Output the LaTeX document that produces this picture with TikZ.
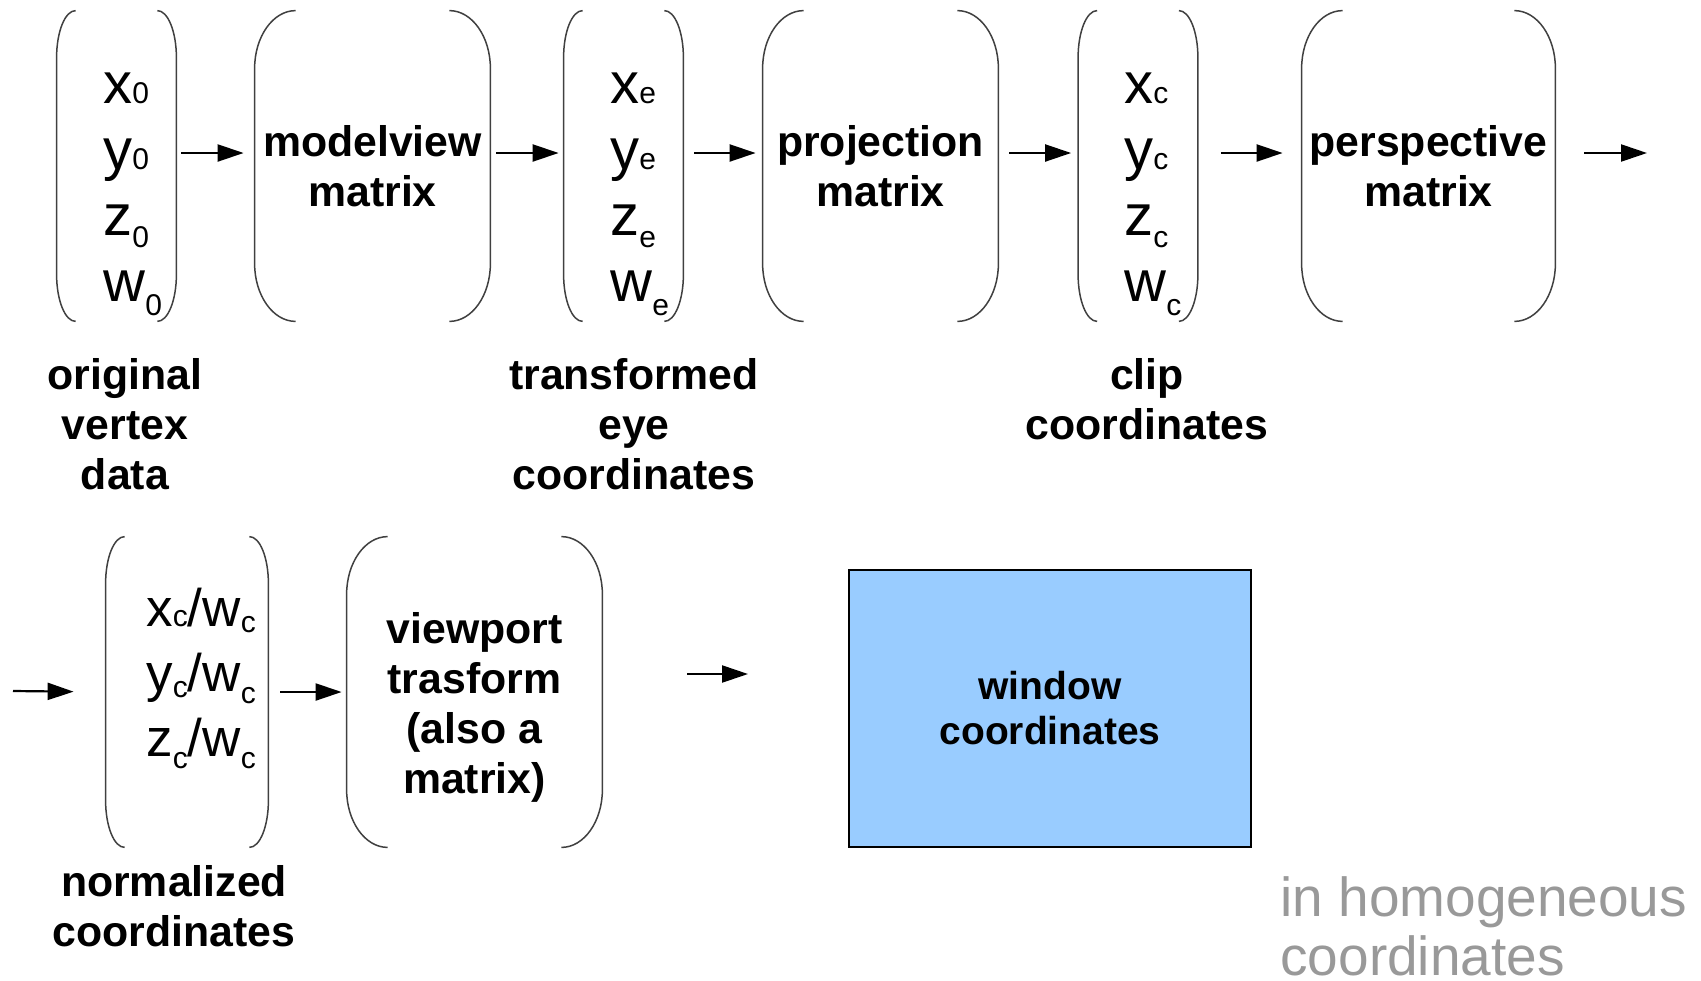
\documentclass[tikz,border=0pt]{standalone}
\usepackage{fontspec}
\setmainfont{Liberation Sans}
\usepackage{xcolor}
\usetikzlibrary{arrows.meta}
\definecolor{winblue}{HTML}{99CCFF}
\definecolor{notegray}{HTML}{999999}
\tikzset{vec/.style = {inner sep = 0, minimum width = 59.5pt, minimum height = 155pt}}
\tikzset{mat/.style = {vec, minimum width = 117.5pt, align = center, font = \bfseries\fontsize{21.4}{25}\selectfont}}
\tikzset{comp/.style = {inner sep = 0, align = left, font = \fontsize{29}{33}\selectfont}}
\tikzset{lbl/.style = {inner sep = 0, align = center, font = \bfseries\fontsize{21.4}{25}\selectfont}}
\tikzset{paren/.style = {line width = 0.75pt, draw = black!75}}
\tikzset{arr/.style = {line width = 1.1pt, -{Triangle[length = 13pt, width = 8.5pt]}}}
% subscript, lowered by the optional amount
\newcommand{\sub}[2][0pt]{\raisebox{-#1}{\fontsize{15}{15}\selectfont #2}}
% round brackets around a node: name, curl width, curl height
\newcommand{\parens}[3]{%
  \draw[paren] ([xshift=#2]#1.north west) arc[start angle=90, end angle=180, x radius=#2, y radius=#3]
    -- ([yshift=#3]#1.south west) arc[start angle=180, end angle=270, x radius=#2, y radius=#3];
  \draw[paren] ([xshift=-#2]#1.north east) arc[start angle=90, end angle=0, x radius=#2, y radius=#3]
    -- ([yshift=#3]#1.south east) arc[start angle=0, end angle=-90, x radius=#2, y radius=#3];
}

\begin{document}
\begin{tikzpicture}[x=0.5pt, y=-0.5pt]
  \useasboundingbox (0,0) rectangle (1701,980);

  \node[vec] (v0) at (116.5,166) {};
  \node[mat] (mv) at (372.5,166) {modelview\\matrix};
  \node[vec] (ve) at (623.5,166) {};
  \node[mat] (pr) at (880.5,166) {projection\\matrix};
  \node[vec] (vc) at (1138,166) {};
  \node[mat, minimum width = 126.5pt] (pe) at (1428.5,166) {perspective\\matrix};

  \node[vec, minimum width = 81pt] (vn) at (187,692) {};
  \node[vec, minimum width = 127.5pt] (vp) at (474.5,692) {};
  \node[draw, line width = 1pt, fill = winblue, minimum width = 201pt, minimum height = 138.5pt,
        align = center, font = \bfseries\fontsize{19.5}{22.5}\selectfont] (win) at (1050,708.5) {window\\coordinates};

  \parens{v0}{9.5pt}{23.5pt}
  \parens{ve}{9.5pt}{23.5pt}
  \parens{vc}{9.5pt}{23.5pt}
  \parens{vn}{9.5pt}{23.5pt}
  \parens{mv}{20.5pt}{29pt}
  \parens{pr}{20.5pt}{29pt}
  \parens{pe}{20.5pt}{29pt}
  \parens{vp}{20.5pt}{29pt}

  \node[comp, anchor = west] (v0t) at (103,194) {x\sub{0}\\y\sub{0}\\z\sub[6pt]{0}\\w\sub[7pt]{0}};
  \node[comp, anchor = west] (vet) at (610,194) {x\sub{e}\\y\sub{e}\\z\sub[6pt]{e}\\w\sub[7pt]{e}};
  \node[comp, anchor = west] (vct) at (1124,194) {x\sub{c}\\y\sub{c}\\z\sub[6pt]{c}\\w\sub[7pt]{c}};
  \node[comp, anchor = west, font = \fontsize{26.5}{32.5}\selectfont] (vnt) at (146,678)
    {x\sub{c}/w\sub[3pt]{c}\\y\sub[3pt]{c}/w\sub[6pt]{c}\\z\sub[6pt]{c}/w\sub[6pt]{c}};
  \node[lbl] (vpt) at (474.5,707) {viewport\\trasform\\(also a\\matrix)};

  \node[lbl] (l0) at (125,424) {original\\vertex\\data};
  \node[lbl] (le) at (634,424) {transformed\\eye\\coordinates};
  \node[lbl] (lc) at (1147,399) {clip\\coordinates};
  \node[lbl] (ln) at (174,906) {normalized\\coordinates};
  \node[inner sep = 0, anchor = west, align = left, text = notegray,
        font = \fontsize{27.5}{29.5}\selectfont] (hom) at (1280,926) {in homogeneous\\coordinates};

  \coordinate (out1) at (1647,153);
  \coordinate (in2) at (13,691);

  \draw[arr, shorten <= 2.5pt, shorten >= 5.5pt] ([yshift=6.5pt]v0.east) -- ([yshift=6.5pt]mv.west);
  \draw[arr, shorten <= 3pt, shorten >= 2.5pt] ([yshift=6.5pt]mv.east) -- ([yshift=6.5pt]ve.west);
  \draw[arr, shorten <= 5.5pt, shorten >= 3.5pt] ([yshift=6.5pt]ve.east) -- ([yshift=6.5pt]pr.west);
  \draw[arr, shorten <= 5.5pt, shorten >= 3.5pt] ([yshift=6.5pt]pr.east) -- ([yshift=6.5pt]vc.west);
  \draw[arr, shorten <= 11.5pt, shorten >= 9.5pt] ([yshift=6.5pt]vc.east) -- ([yshift=6.5pt]pe.west);
  \draw[arr, shorten <= 14.5pt] ([yshift=6.5pt]pe.east) -- (out1);
  \draw[arr, shorten >= 16pt] (in2) -- (vn.west);
  \draw[arr, shorten <= 6pt, shorten >= 2.5pt] (vn.east) -- (vp.west);
  \draw[arr, shorten <= 42.5pt, shorten >= 50pt] ([yshift=9pt]vp.east) -- ([yshift=17.25pt]win.west);
\end{tikzpicture}
\end{document}
